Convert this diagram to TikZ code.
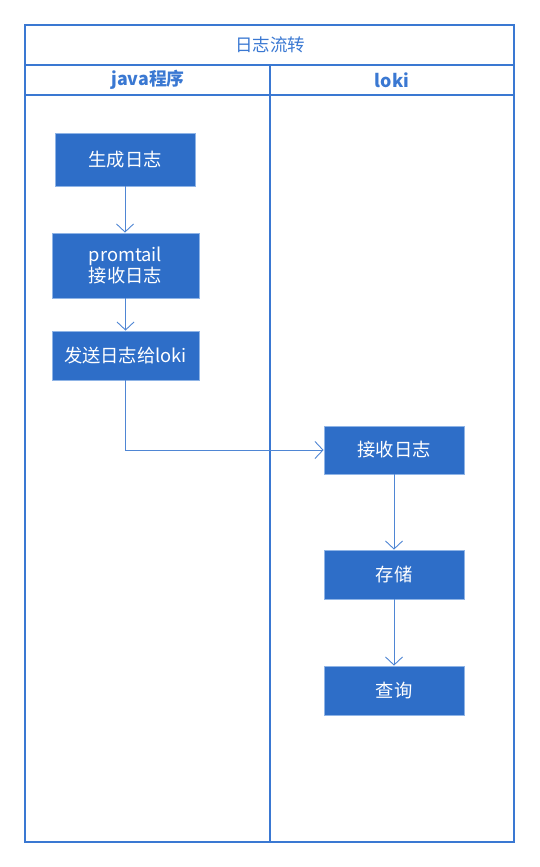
\documentclass[tikz,border=0pt]{standalone}
\usepackage{fontspec}
\setmainfont{Noto Sans CJK SC}
\usetikzlibrary{arrows.meta}
\definecolor{lanec}{HTML}{3A78D2}
\definecolor{boxfill}{HTML}{2E6EC8}
\definecolor{boxedge}{HTML}{8FB4E6}
\definecolor{linec}{HTML}{4F86D4}
\tikzset{
  stepbox/.style={draw=boxedge, line width=0.8pt, fill=boxfill, text=white, font=\fontsize{18.3}{21}\selectfont, align=center, inner sep=0pt},
  flow/.style={draw=linec, line width=0.9pt, -{Straight Barb[length=8pt,width=17pt,line width=0.9pt]}},
  frame/.style={draw=lanec, line width=1.2pt},
}
\begin{document}
\begin{tikzpicture}[x=1pt,y=-1pt]
\useasboundingbox (0,0) rectangle (539,867);
\draw[frame] (25,25) rectangle (514,842);
\draw[frame] (25,65) -- (514,65);
\draw[frame] (25,95) -- (514,95);
\draw[frame] (270,65) -- (270,842);
\node[text=lanec, font=\fontsize{17.5}{20}\selectfont] (title) at (270,45) {日志流转};
\node[text=lanec, font=\bfseries\fontsize{17.8}{20}\selectfont] (h1) at (148,80) {java程序};
\node[text=lanec, font=\bfseries\fontsize{17.8}{20}\selectfont] (h2) at (392,80) {loki};

\node[stepbox, minimum width=140pt, minimum height=53pt] (a) at (125,159.5) {生成日志};
\node[stepbox, minimum width=147pt, minimum height=65pt] (b) at (125.5,265.5) {promtail\\接收日志};
\node[stepbox, minimum width=147pt, minimum height=49pt] (c) at (125.5,355.5) {发送日志给loki};
\node[stepbox, minimum width=140pt, minimum height=48pt] (d) at (394,450) {接收日志};
\node[stepbox, minimum width=140pt, minimum height=49pt] (e) at (394,574.5) {存储};
\node[stepbox, minimum width=140pt, minimum height=49pt] (f) at (394,690.5) {查询};

\draw[flow] (a.south) -- (a.south |- b.north);
\draw[flow] (b.south) -- (b.south |- c.north);
\draw[flow] (c.south) |- (d.west);
\draw[flow] (d.south) -- (e.north);
\draw[flow] (e.south) -- (f.north);
\end{tikzpicture}
\end{document}
